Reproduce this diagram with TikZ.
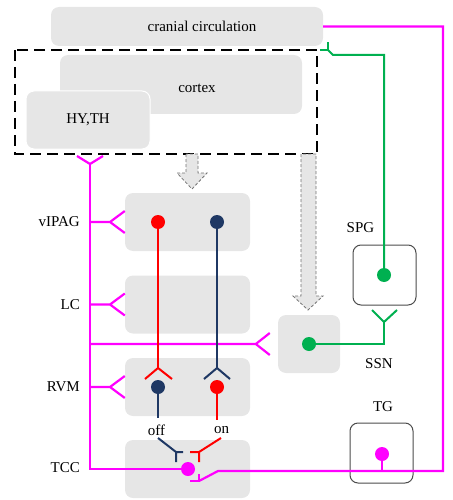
\documentclass[tikz,border=0pt]{standalone}
\usepackage{fontspec}
\setmainfont{Liberation Serif}
\definecolor{boxgray}{HTML}{E6E6E6}
\definecolor{magen}{HTML}{FF00FF}
\definecolor{navy}{HTML}{1F3864}
\definecolor{nred}{HTML}{FF0000}
\definecolor{ngreen}{HTML}{00B050}
\tikzset{
  region/.style={fill=boxgray, rounded corners=8pt, inner sep=0pt},
  ganglion/.style={draw=black!70, fill=white, rounded corners=8pt, line width=1pt,
    minimum width=63pt, minimum height=60pt, inner sep=0pt},
  nucleus/.style={region, minimum width=125pt, minimum height=58pt},
  soma/.style={circle, inner sep=0pt, minimum size=14pt},
  lbl/.style={font=\fontsize{15}{17}\selectfont, inner sep=0pt},
  magline/.style={magen, line width=2.2pt},
  redline/.style={nred, line width=2pt},
  navyline/.style={navy, line width=2pt},
  greenline/.style={ngreen, line width=2pt},
  flow/.style={fill=boxgray, draw=black!55, densely dashed, line width=0.8pt},
}
\begin{document}
\begin{tikzpicture}[x=1pt, y=-1pt]
    \useasboundingbox (0,0) rectangle (452,500);

    % Upper regions
    \node[region, minimum width=272pt, minimum height=39pt] (circ) at (187,26.5) {};
    \node[lbl] (circtxt) at (202,26) {cranial circulation};
    \node[region, minimum width=242pt, minimum height=59pt] (cortex) at (181,84.5) {};
    \node[lbl] (cortxt) at (197,88) {cortex};
    \node[region, lbl, draw=white, line width=1pt, minimum width=124pt, minimum height=58pt] (hyth) at (88,120) {HY,TH};
    \draw[black, line width=2.5pt, dash pattern=on 11pt off 6pt] (15,50) rectangle (317,154);

    % Brainstem nuclei
    \node[nucleus] (vipag) at (187.5,222) {};
    \node[nucleus] (lc) at (187.5,304.5) {};
    \node[nucleus] (rvm) at (187.5,387) {};
    \node[nucleus] (tcc) at (187.5,469) {};
    \node[region, minimum width=62pt, minimum height=58pt] (ssn) at (309,344) {};
    \node[ganglion] (spg) at (384.5,275) {};
    \node[ganglion] (tg) at (381.5,453) {};

    % Labels
    \node[lbl, anchor=east] (vipagtxt) at (80,222) {vIPAG};
    \node[lbl, anchor=east] (lctxt) at (80,305) {LC};
    \node[lbl, anchor=east] (rvmtxt) at (80,387) {RVM};
    \node[lbl, anchor=east] (tcctxt) at (80,468) {TCC};
    \node[lbl] (spgtxt) at (360.5,228) {SPG};
    \node[lbl] (ssntxt) at (379,364) {SSN};
    \node[lbl] (tgtxt) at (383,407) {TG};
    \node[lbl] (off) at (156.5,430) {off};
    \node[lbl] (on) at (221.5,430) {on};

    % Descending block arrows
    \draw[flow] (186,154) -- (186,173) -- (177,173) -- (192,189) -- (207,173) -- (198,173) -- (198,154) -- cycle;
    \draw[flow] (301,154) -- (301,296) -- (293,296) -- (308,310) -- (323,296) -- (316,296) -- (316,154) -- cycle;

    % Cell bodies
    \node[soma, fill=nred] (pagR) at (158,222) {};
    \node[soma, fill=navy] (pagB) at (217,222) {};
    \node[soma, fill=navy] (rvmOff) at (158,387) {};
    \node[soma, fill=nred] (rvmOn) at (217,387) {};
    \node[soma, fill=magen] (tccDot) at (188,469) {};
    \node[soma, fill=ngreen] (ssnDot) at (309,344) {};
    \node[soma, fill=ngreen] (spgDot) at (384,275) {};
    \node[soma, fill=magen] (tgDot) at (382,454) {};

    \coordinate (hyApex) at (90,164);
    \coordinate (offIn) at (158,368);
    \coordinate (onIn) at (217,368);
    \coordinate (ssnApex) at (384,322);
    \coordinate (circIn) at (328,50);
    \coordinate (tgJoin) at (382,471);
    \coordinate (tccBend) at (218,471);
    \coordinate (tccTerm) at (199,481);

    % Magenta trunk from HY,TH
    \draw[magline] (77,156) -- (hyApex) -- (103,156);
    \draw[magline] (hyApex) |- (tccDot);
    \foreach \n in {vipag,lc,rvm}{
        \draw[magline] (hyApex |- \n.west) -- ++(20,0) coordinate (fk)
            -- ([yshift=11pt]\n.west) (fk) -- ([yshift=-11pt]\n.west);
    }
    \draw[magline] (hyApex |- ssn.west) -- ([xshift=-22pt]ssn.west) coordinate (fk)
        -- ([xshift=-8pt, yshift=11pt]ssn.west) (fk) -- ([xshift=-8pt, yshift=-11pt]ssn.west);

    % vlPAG to RVM
    \draw[redline] (pagR) -- (offIn);
    \draw[redline] (145,379) -- (offIn) -- (172,379);
    \draw[navyline] (pagB) -- (onIn);
    \draw[navyline] (204,379) -- (onIn) -- (230,379);

    % RVM off/on cells to TCC
    \draw[navyline, shorten >=6pt] (rvmOff) -- (rvmOff |- off.north);
    \draw[redline, shorten >=6pt] (rvmOn) -- (rvmOn |- on.north);
    \draw[navyline] (158,438) -- (176,452) -- (176,462) (176,452) -- (183,452);
    \draw[redline] (221,438) -- (199,452) -- (199,462) (199,452) -- (190,452);

    % Trigeminal loop
    \draw[magline] (tgDot) -- (tgJoin);
    \draw[magline] (circ.east) -| (443,471) -- (tccBend) -- (tccTerm);
    \draw[magline] (190,481) -- (tccTerm) -- (199,474);

    % Parasympathetic outflow
    \draw[greenline] (spgDot) |- (333,55) -- (circIn);
    \draw[greenline] (320,50) -- (circIn) -- (328,42);
    \draw[greenline] (ssnDot) -| (ssnApex);
    \draw[greenline] (372,310) -- (ssnApex) -- (397,310);
\end{tikzpicture}
\end{document}
